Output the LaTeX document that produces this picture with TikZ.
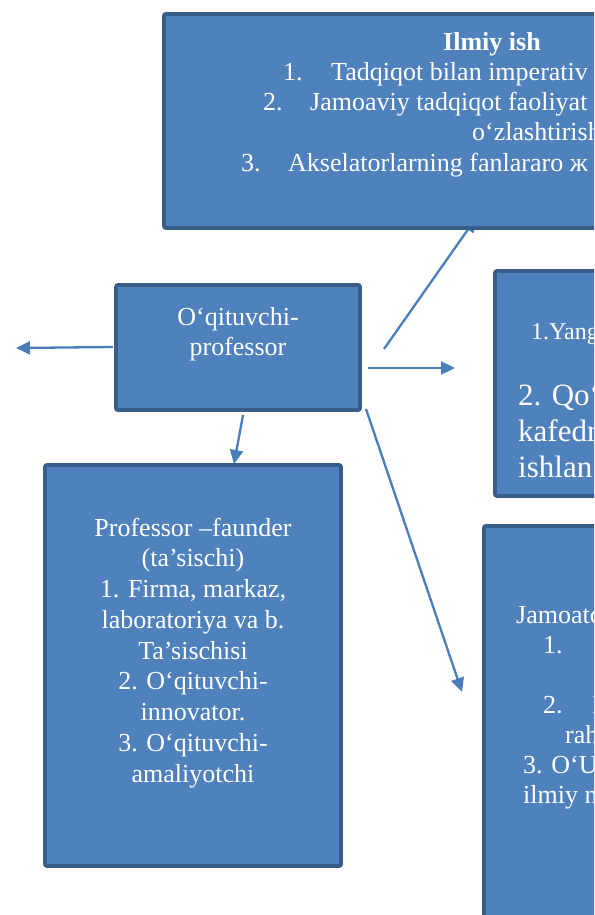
\documentclass[tikz,border=0pt]{standalone}
\usepackage{fontspec}
\setmainfont{Liberation Serif}
\usetikzlibrary{arrows.meta}
\definecolor{boxfill}{HTML}{4F81BD}
\definecolor{boxline}{HTML}{385D8A}
\definecolor{arrowcol}{HTML}{4A7EBB}
\begin{document}
\begin{tikzpicture}[x=1pt,y=-1pt,
  box/.style={draw=boxline, fill=boxfill, line width=3.8pt, rounded corners=2pt,
    rectangle, anchor=north west, inner sep=0pt, outer sep=0pt},
  txt/.style={text=white, inner sep=0pt, font=\fontsize{26}{30}\selectfont},
  conn/.style={draw=arrowcol, line width=2.3pt},
  arr/.style={conn, -{Triangle[length=14pt,width=13pt]}}]
\useasboundingbox (0,0) rectangle (594,915);
\clip (0,0) rectangle (594,915);
\fill[white] (0,0) rectangle (594,915);

% connector end points
\coordinate (leftend) at (16,348);
\coordinate (rs) at (368,368);
\coordinate (re) at (455,368);
\coordinate (us) at (384,349);
\coordinate (ue) at (476,218);
\coordinate (ds) at (243,415);
\coordinate (de) at (234,464);
\coordinate (gs) at (366,409);
\coordinate (ge) at (462,692);

% connectors (drawn under the boxes)
\draw[arr] (113,347) -- (leftend);
\draw[arr] (rs) -- (re);
\draw[arr] (us) -- (ue);
\draw[arr] (ds) -- (de);
\draw[arr] (gs) -- (ge);

% boxes
\node[box, minimum width=666pt, minimum height=214pt] (top) at (164,14) {};
\node[box, minimum width=244pt, minimum height=125pt] (prof) at (116,285) {};
\node[box, minimum width=305pt, minimum height=225pt] (rmid) at (495,271) {};
\node[box, minimum width=296pt, minimum height=401pt] (lbot) at (45,465) {};
\node[box, minimum width=316pt, minimum height=474pt] (rbot) at (484,526) {};

% top box text
\node[txt, anchor=base west, font=\bfseries\fontsize{26}{30}\selectfont] (t0) at (443,51) {Ilmiy ish};
\node[txt, anchor=base west] (t1) at (283,81) {\makebox[48pt][l]{1.}Tadqiqot bilan imperativ};
\node[txt, anchor=base west] (t2) at (263,111) {\makebox[47pt][l]{2.}Jamoaviy tadqiqot faoliyat};
\node[txt, anchor=base west] (t3) at (472,140) {o‘zlashtirish};
\node[txt, anchor=base west] (t4) at (241,171) {\makebox[47pt][l]{3.}Akselatorlarning fanlararo ж};

% professor box text
\node[txt, anchor=base] (p1) at (238,325) {O‘qituvchi-};
\node[txt, anchor=base] (p2) at (238,355) {professor};

% right middle box text
\node[txt, anchor=base west, font=\fontsize{24}{28}\selectfont] (m1) at (531,339) {1.Yang};
\node[txt, anchor=base west, font=\fontsize{31}{36}\selectfont] (m2) at (518,405) {2. Qo‘};
\node[txt, anchor=base west, font=\fontsize{31}{36}\selectfont] (m3) at (518,441) {kafedr};
\node[txt, anchor=base west, font=\fontsize{31}{36}\selectfont] (m4) at (518,477) {ishlan};

% left bottom box text (anchor = baseline of the last line)
\node[txt, align=center, anchor=base, font=\fontsize{26}{30.75}\selectfont] (lb) at (193,782)
  {Professor –faunder\\(ta’sischi)\\1. Firma, markaz,\\laboratoriya va b.\\Ta’sischisi\\2. O‘qituvchi-\\innovator.\\3. O‘qituvchi-\\amaliyotchi};

% right bottom box text
\node[txt, anchor=base west] (b1) at (516,623) {Jamoatch};
\node[txt, anchor=base west] (b2) at (543,653) {1.};
\node[txt, anchor=base west] (b3) at (543,713) {\makebox[49pt][l]{2.}I};
\node[txt, anchor=base west] (b4) at (565,743) {rahb};
\node[txt, anchor=base west] (b5) at (523,773) {3. O‘U};
\node[txt, anchor=base west] (b6) at (523,803) {ilmiy n};
\end{tikzpicture}
\end{document}
